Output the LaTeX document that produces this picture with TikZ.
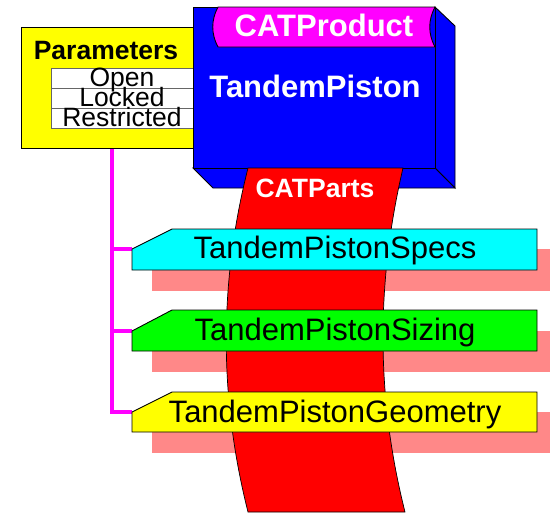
\documentclass[tikz,border=0pt]{standalone}
\usepackage{fontspec}
\setmainfont{Liberation Sans}
\begin{document}
\begin{tikzpicture}[x=1pt,y=-1pt,line join=miter,
  outl/.style={draw=black,line width=0.9pt},
  bigtxt/.style={font=\fontsize{31}{31}\selectfont,anchor=base,inner sep=0pt},
  bigbold/.style={font=\fontsize{31}{31}\selectfont\bfseries,anchor=base,inner sep=0pt,text=white},
  midtxt/.style={font=\fontsize{26.5}{26.5}\selectfont,anchor=base,inner sep=0pt},
  midbold/.style={font=\fontsize{26.5}{26.5}\selectfont\bfseries,anchor=base,inner sep=0pt},
  tabrow/.style={draw=black!60,line width=0.9pt,fill=white,minimum width=142pt,minimum height=20pt,anchor=north west,inner sep=0pt},
  shadowbox/.style={fill=shadowpink},
  link/.style={draw=cmag,line width=4pt}]
\definecolor{shadowpink}{RGB}{255,136,136}
\definecolor{cmag}{RGB}{255,0,255}
\definecolor{ccyan}{RGB}{0,255,255}
\definecolor{cyel}{RGB}{255,255,0}
\definecolor{cgreen}{RGB}{0,255,0}
\definecolor{cblue}{RGB}{0,0,255}
\definecolor{cred}{RGB}{255,0,0}
\definecolor{cwhite}{RGB}{255,255,255}
\useasboundingbox (0,0) rectangle (550,515);

% Parameters box
\node[outl,fill=cyel,minimum width=182pt,minimum height=121pt,anchor=north west,inner sep=0pt] (params) at (21,27) {};
\node[midbold] (ptitle) at (106,59) {Parameters};
\node[tabrow] (row1) at (51,68) {};
\node[tabrow] (row2) at (51,88) {};
\node[tabrow] (row3) at (51,108) {};
\node[midtxt] (topen) at (122,86) {Open};
\node[midtxt] (tlocked) at (122,106) {Locked};
\node[midtxt] (trestr) at (122,126) {Restricted};

% Product box
\path[outl,fill=cblue] (435,7) -- (455,26) -- (455,188) -- (435,168) -- cycle;
\path[outl,fill=cblue] (193,168) -- (435,168) -- (455,188) -- (213,188) -- cycle;
\node[outl,fill=cblue,minimum width=242pt,minimum height=161pt,anchor=north west,inner sep=0pt] (prod) at (193,7) {};
\path[outl,fill=cmag] (218,7) .. controls (211,20) and (211,34) .. (218,47) -- (435,47) .. controls (428,34) and (428,20) .. (435,7) -- cycle;
\node[bigbold,text=cwhite] (catprod) at (324,36) {CATProduct};
\node[bigbold,text=cwhite] (tp) at (315,97) {TandemPiston};

% shadows
\fill[shadowbox] (152,249) rectangle (550,291);
\fill[shadowbox] (152,331) rectangle (550,372);
\fill[shadowbox] (152,412) rectangle (550,453);

% CATParts band
\path[draw=black,line width=0.7pt,fill=cred] (248,168) .. controls (219,283) and (219,397) .. (248,512) -- (405,512) .. controls (376,397) and (376,283) .. (403,168) -- cycle;
\node[midbold,text=cwhite] (catparts) at (315,197) {CATParts};

% connectors
\coordinate (specsin) at (132,249);
\coordinate (sizingin) at (132,331);
\coordinate (geomin) at (132,412);
\draw[link] (params.south) -- (params.south |- geomin) -- (geomin);
\draw[link] (params.south |- specsin) -- (specsin);
\draw[link] (params.south |- sizingin) -- (sizingin);

% bars
\path[outl,fill=ccyan] (172,229) -- (537,229) -- (537,270) -- (132,270) -- (specsin) -- cycle;
\node[bigtxt] (specs) at (335,258) {TandemPistonSpecs};
\path[outl,fill=cgreen] (172,310) -- (537,310) -- (537,351) -- (132,351) -- (sizingin) -- cycle;
\node[bigtxt] (sizing) at (335,340) {TandemPistonSizing};
\path[outl,fill=cyel] (172,392) -- (537,392) -- (537,432) -- (132,432) -- (geomin) -- cycle;
\node[bigtxt] (geom) at (335,422) {TandemPistonGeometry};
\end{tikzpicture}
\end{document}
